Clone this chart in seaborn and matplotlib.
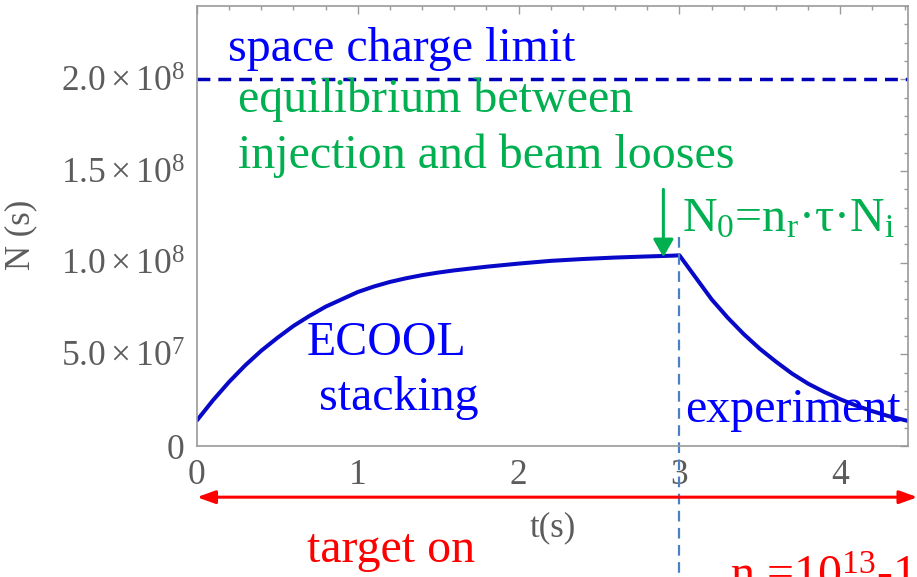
import numpy as np
import pandas as pd
import matplotlib
matplotlib.use("Agg")
import matplotlib.pyplot as plt
from matplotlib.ticker import MultipleLocator, FixedLocator
import seaborn as sns

# Stored particle number during ECOOL stacking (t < 3 s) and the experiment phase (t > 3 s)
t_stack = [0.0, 0.05, 0.1, 0.15, 0.2, 0.25, 0.3, 0.35, 0.4, 0.45, 0.5, 0.6,
           0.7, 0.8, 0.9, 1.0, 1.1, 1.2, 1.3, 1.4, 1.5, 1.6, 1.8, 2.0, 2.2,
           2.4, 2.6, 2.8, 2.95, 3.0]
n_stack = [0.14e8, 0.195e8, 0.25e8, 0.30e8, 0.35e8, 0.395e8, 0.44e8, 0.48e8,
           0.52e8, 0.555e8, 0.59e8, 0.655e8, 0.71e8, 0.76e8, 0.80e8, 0.84e8,
           0.87e8, 0.895e8, 0.915e8, 0.932e8, 0.946e8, 0.958e8, 0.978e8,
           0.995e8, 1.01e8, 1.02e8, 1.028e8, 1.034e8, 1.038e8, 1.04e8]
t_exp = [3.05, 3.1, 3.15, 3.2, 3.25, 3.3, 3.35, 3.4, 3.5, 3.6, 3.7, 3.8, 3.9,
         4.0, 4.1, 4.2, 4.3, 4.42]
n_exp = [0.98e8, 0.92e8, 0.86e8, 0.80e8, 0.75e8, 0.70e8, 0.655e8, 0.61e8,
         0.53e8, 0.46e8, 0.395e8, 0.34e8, 0.295e8, 0.255e8, 0.22e8, 0.19e8,
         0.163e8, 0.137e8]

space_charge_limit = 2.0e8
t_switch = 3.0

x_ticks = [0, 1, 2, 3, 4]
y_ticks = [0, 0.5e8, 1.0e8, 1.5e8, 2.0e8]
y_tick_labels = ["0", r"$5.0\times10^{7}$", r"$1.0\times10^{8}$",
                 r"$1.5\times10^{8}$", r"$2.0\times10^{8}$"]

df = pd.DataFrame({"t": t_stack + t_exp, "N": n_stack + n_exp})

sns.set_theme(style="white")
plt.rcParams["font.family"] = ["Liberation Serif", "DejaVu Serif"]
plt.rcParams["mathtext.fontset"] = "custom"
plt.rcParams["mathtext.rm"] = "Liberation Serif"
plt.rcParams["mathtext.it"] = "Liberation Serif:italic"
plt.rcParams["mathtext.bf"] = "Liberation Serif:bold"

BLUE_TXT = "#0000ff"
GREEN = "#00b050"
RED = "#ff0000"
GRAY_TXT = "#5c5c5c"
SPINE = "#9a9a9a"

fig = plt.figure(figsize=(9.17, 5.77), dpi=100)
ax = fig.add_axes([0.2148, 0.227, 0.7752, 0.7626])

sns.lineplot(data=df, x="t", y="N", sort=False, ax=ax, color="#0808c8",
             linewidth=2.9)
ax.axhline(space_charge_limit, color="#0000b8", linewidth=2.5,
           linestyle=(0, (3.7, 2.3)))

ax.set_xlim(0, 4.42)
ax.set_ylim(0, 2.40e8)

ax.xaxis.set_major_locator(FixedLocator(x_ticks))
ax.xaxis.set_minor_locator(MultipleLocator(0.2))
ax.set_yticks(y_ticks)
ax.set_yticklabels(y_tick_labels)
ax.yaxis.set_minor_locator(MultipleLocator(1e7))
ax.tick_params(which="both", direction="in", top=True, right=True,
               color=SPINE, width=1.0)
ax.tick_params(which="major", length=6, labelsize=25.5, labelcolor=GRAY_TXT,
               pad=9)
ax.tick_params(which="minor", length=3)
for s in ax.spines.values():
    s.set_color(SPINE)
    s.set_linewidth(1.2)

ax.set_xlabel("t(s)", fontsize=25, color=GRAY_TXT, labelpad=14)
ax.set_ylabel("N (s)", fontsize=25, color=GRAY_TXT)
ax.yaxis.set_label_coords(-0.225, 0.48)

# Switch from stacking to experiment
ax.plot([t_switch, t_switch], [1.14e8, -0.75e8], clip_on=False,
        color="#4a80c4", linewidth=1.6, linestyle=(0, (4.8, 2.9)))

# Annotations
FS = 34.5
ax.text(0.193, 2.098e8, "space charge limit", color=BLUE_TXT, fontsize=FS,
        va="baseline")
ax.text(0.255, 1.82e8, "equilibrium between", color=GREEN, fontsize=FS,
        va="baseline")
ax.text(0.255, 1.514e8, "injection and beam looses", color=GREEN,
        fontsize=FS, va="baseline")
ax.text(3.018, 1.169e8, r"N$_\mathrm{0}$=n$_\mathrm{r}$·τ·N$_\mathrm{i}$",
        color=GREEN, fontsize=FS, va="baseline")
ax.text(0.684, 0.497e8, "ECOOL", color=BLUE_TXT, fontsize=FS, va="baseline")
ax.text(0.759, 0.197e8, "stacking", color=BLUE_TXT, fontsize=FS,
        va="baseline")
ax.text(3.037, 0.131e8, "experiment", color=BLUE_TXT, fontsize=FS,
        va="baseline")
ax.text(0.684, -0.634e8, "target on", color=RED, fontsize=FS, va="baseline")
ax.text(3.317, -0.781e8, r"n$_\mathrm{r}$=10$^{13}$-10$^{14}$", color=RED,
        fontsize=FS, va="baseline")

ax.annotate("", xy=(2.90, 1.03e8), xytext=(2.90, 1.40e8),
            arrowprops=dict(arrowstyle="-|>,head_length=0.72,head_width=0.41",
                            color=GREEN, lw=2.2, shrinkA=0, shrinkB=0,
                            mutation_scale=15))
ax.annotate("", xy=(0.0, -0.279e8), xytext=(4.48, -0.279e8),
            annotation_clip=False,
            arrowprops=dict(arrowstyle="<|-|>,head_length=0.72,head_width=0.26",
                            color=RED, lw=2.2, shrinkA=0, shrinkB=0,
                            mutation_scale=15))

fig.savefig("out.png", dpi=100)
